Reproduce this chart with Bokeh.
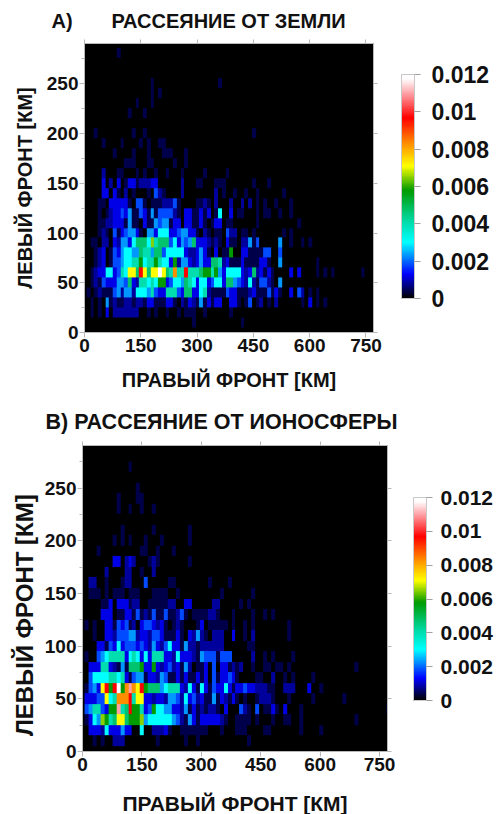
from bokeh.embed import file_html
from bokeh.resources import INLINE
from bokeh.layouts import column
from bokeh.models import ColorBar, FixedTicker, LinearAxis, LinearColorMapper, Range1d, Title
from bokeh.plotting import figure
import numpy as np

# Cell strings: one character per 10 km bin of the right front, grouped by tens.
LEVELS = {".": 0.0, "1": 0.0004, "2": 0.0008, "3": 0.0012, "4": 0.0018, "5": 0.0023,
          "6": 0.0030, "7": 0.0040, "8": 0.0047, "9": 0.0058, "g": 0.0065, "y": 0.0071,
          "o": 0.0083, "r": 0.0097, "p": 0.0110, "w": 0.0120}

GROUND = {
    280: ".........1",
    250: ".......... ........1. .......... ......1...",
    240: ".......... ........1. 1",
    230: ".......... ....1...1.",
    220: ".......... ..1...1...",
    200: "...1...... ...1..1... .......... .......... .....1....",
    190: ".....1.... 1....1.1.. 11........",
    180: "........1. ...1...1.. .111...1..",
    170: ".......... .111...11. ....1..1..",
    160: ".....2...1 1...1.1..1 ..1...1... ..1.....1.",
    150: ".....3.2.3 .133122233 ......2... 11...111.. .....1...1",
    140: ".....33.31 .2.1...1.4 21....2... .....2.1.. 1..1..1... ...1......",
    130: "....11.333 331.441.11 122241.... 1121.2...2 ..2.2.1.1. .1...1....",
    120: "....1.1233 4351143151 444421.331 1313.16..3 .11...1.11 ..1..1....",
    110: "....112233 31511.3115 455133.331 131.133.11 ......1... .......1..",
    100: "....121.41 345531.553 6663345533 1.21.11.42 2.11.1.... ...1.1....",
    90: "..11.22.32 55368886g7 8884635458 3332121.31 1.22514... ..5..1..1. 1",
    80: "...123.143 5665587758 8466666322 3531.3.119 ..33111144 ..4.......",
    70: "...123.144 5667796779 7663925532 3533887231 1131111331 ..5....... ..1",
    60: "..12336634 76yy8ry8yy wy87o77r77 7899795366 6632382313 1....3.3.. ..1.1.1... ....1",
    50: "..12143335 5483277676 9934665876 3663466388 5432621442 1.5.......",
    40: ".1.1211145 2552666574 3377743883 3672111143 3111231114 131..3.42. 1.1",
    30: "..1.1.5121 1221221331 11331.2132 1513133..3 31.14.12.1 .2......1. 3.1.1",
    20: "..1.1.3.22 22222..1.1 ..1..1.111 ..1......1",
    10: ".......... .......... .........1 .......... ..1",
}

IONO = {
    270: ".......... ..1",
    250: ".......... ....1",
    240: ".........1 ....11",
    230: ".........1 ..1..1..1.",
    210: ".......... 1.......1. .......1..",
    200: "........1. 1.1...1... 1......1..",
    190: "....1..... .....11..1 ...1......",
    180: "........33 .232...121 .......1..",
    170: "......2... .22..1..2.",
    160: "..22..1... 122...4... ..11...... ..1....1..",
    150: "..111.1.11 1.111...11 11..1..... .....1.... ...1......",
    140: ".....113.3 33122..111 1122..33.. ...22..... 1.1.......",
    130: ".....333.1 1331412141 1411241.11 11221...1. ...1..1.1.",
    120: ".1.1..3314 3412.34432 31.121...1 3.11111.1. .1.1...... ..1.......",
    110: "...1..3324 4455233244 311131.325 21.222..3. .1.2...... ..1.......",
    100: "....331436 3444343253 2463315221 222222.... ..11......",
    90: ".1..456777 7367636377 7332633321 54441444.. ...2..1.1. ...1......",
    80: "..33377321 5188893393 23423152.1 13.4.33121 2..1..11.1 1.1....... .........1",
    70: "..46666776 7314551332 5411313113 13.4133431 ....11..2. .1.1....1.",
    60: ".1453yr9rw 9opoyr9888 5677732631 6314336313 343322211. .222...3.. 1",
    50: ".33344y67o oor7yy3323 3255426342 3115132131 .1..12221. ..1.....1. ......1...",
    40: ".45774399p 78r9973496 6553325131 21221.3... 421.4.1131 .3...1.... .......... .......1",
    30: ".1365g978y y8999g5666 6665421531 3333321..1 111.1...1. .11..1.... .........1",
    20: "..33326333 533..6..22 231..11111 11...1...1 11....11.. .....1.... 1",
    10: "...1.1..22 2........1 ......1..1 .......... ..1",
}

X_TICKS = [0, 150, 300, 450, 600, 750]
Y_TICKS = [0, 50, 100, 150, 200, 250]
Y_MINOR = [25, 75, 125, 175, 225, 275]
CBAR_TICKS = [0, 0.002, 0.004, 0.006, 0.008, 0.01, 0.012]
CBAR_LABELS = ["0", "0.002", "0.004", "0.006", "0.008", "0.01", "0.012"]
FONT = "Liberation Sans"

# colour stops
STOPS_V = [0, 0.0013, 0.0022, 0.0030, 0.0042, 0.0058, 0.0071, 0.0083, 0.0097, 0.0110, 0.0118, 0.012]
STOPS_C = [(0, 0, 0), (0, 0, 255), (0, 136, 255), (0, 255, 255), (0, 216, 160), (0, 154, 0),
           (255, 255, 0), (255, 144, 0), (255, 0, 0), (255, 160, 165), (255, 255, 255), (255, 255, 255)]
_v = np.linspace(0, 0.012, 256)
PALETTE = ["#%02x%02x%02x" % tuple(int(round(np.interp(t, STOPS_V, [c[i] for c in STOPS_C]))) for i in range(3)) for t in _v]


def grid(rows):
    arr = np.zeros((29, 78))
    for km, s in rows.items():
        for k, ch in enumerate(s.replace(" ", "")):
            arr[km // 10 - 1, k] = LEVELS[ch]
    return arr


def panel(rows, height, left, right, top, fw, fh, title, title_off, title_font, cb_xy, cb_h, cb_font, cb_standoff,
          tick_font, xlab_font, ylab_font, ylab_text, xlab_standoff, ylab_standoff):
    p = figure(frame_width=fw, frame_height=fh, output_backend="svg", toolbar_location=None,
               x_range=Range1d(0, 770), y_range=Range1d(0, 290.5),
               min_border_left=left, min_border_top=top,
               min_border_right=right, min_border_bottom=height - top - fh,
               background_fill_color="black", border_fill_color="white", outline_line_color=None)
    p.grid.visible = False
    mapper = LinearColorMapper(palette=PALETTE, low=0, high=0.012)
    p.image(image=[grid(rows)], x=-5, y=5, dw=780, dh=290, color_mapper=mapper)

    GRAY = "#b8b8b8"
    for ax, tk in ((p.xaxis[0], X_TICKS), (p.yaxis[0], Y_TICKS)):
        ax.ticker = FixedTicker(ticks=tk, minor_ticks=Y_MINOR if tk is Y_TICKS else [])
        ax.major_label_text_font = FONT
        ax.major_label_text_font_style = "bold"
        ax.major_label_text_font_size = tick_font
        ax.major_label_text_color = "#111111"
        ax.axis_line_color = GRAY
        ax.major_tick_line_color = GRAY
        ax.minor_tick_line_color = GRAY
        ax.major_tick_in = 0
        ax.major_tick_out = 5
        ax.minor_tick_in = 0
        ax.minor_tick_out = 3
        ax.major_label_standoff = 1
        ax.axis_label_text_font = FONT
        ax.axis_label_text_font_style = "bold"
        ax.axis_label_text_color = "#111111"
    p.yaxis[0].major_label_orientation = "horizontal"
    p.xaxis[0].axis_label = "ПРАВЫЙ ФРОНТ [КМ]"
    p.yaxis[0].axis_label = ylab_text
    p.xaxis[0].axis_label_text_font_size = xlab_font
    p.yaxis[0].axis_label_text_font_size = ylab_font
    p.xaxis[0].axis_label_standoff = xlab_standoff
    p.yaxis[0].axis_label_standoff = ylab_standoff

    for side, tk in (("above", X_TICKS), ("right", Y_TICKS)):
        ax = LinearAxis(ticker=FixedTicker(ticks=tk), major_label_text_color=None,
                        axis_line_color=GRAY, major_tick_line_color=GRAY, minor_tick_line_color=None,
                        major_tick_in=0, major_tick_out=4)
        p.add_layout(ax, side)

    cb = ColorBar(color_mapper=mapper, ticker=FixedTicker(ticks=CBAR_TICKS),
                  major_label_overrides=dict(zip(CBAR_TICKS, CBAR_LABELS)),
                  location=cb_xy, width=13, height=cb_h, padding=0, margin=0,
                  bar_line_color="#c8c8c8", major_tick_line_color="#a0a0a0", major_tick_in=0, major_tick_out=6,
                  minor_tick_line_color=None, label_standoff=cb_standoff, background_fill_color=None, border_line_color=None,
                  major_label_text_font=FONT, major_label_text_font_style="bold",
                  major_label_text_font_size=cb_font, major_label_text_color="#111111")
    p.add_layout(cb)

    p.add_layout(Title(text=title, text_font=FONT, text_font_style="bold", text_font_size=title_font,
                       text_color="#111111", align="left", offset=title_off, standoff=15), "above")
    return p


a = panel(GROUND, 400, 82, 125, 43, 289, 289, "A)" + "\u00a0" * 7 + "РАССЕЯНИЕ ОТ ЗЕМЛИ", -33, "20px", (317, 34), 224,
          "23px", 11, "19px", "20px", "20px", "ЛЕВЫЙ ФРОНТ [КМ]", 14, 8)
a.margin = (0, 0, 0, 2)
b = panel(IONO, 414, 82, 111, 45, 305, 306, "B) РАССЕЯНИЕ ОТ ИОНОСФЕРЫ", -37, "21.5px", (331, 51), 203,
          "21px", 8, "19px", "21px", "24px", "ЛЕВЫЙ ФРОНТ [КМ]\u00a0\u00a0\u00a0\u00a0\u00a0", 18, 4)
page = column(a, b, spacing=0)
open("out.html", "w").write(file_html(page, INLINE))
